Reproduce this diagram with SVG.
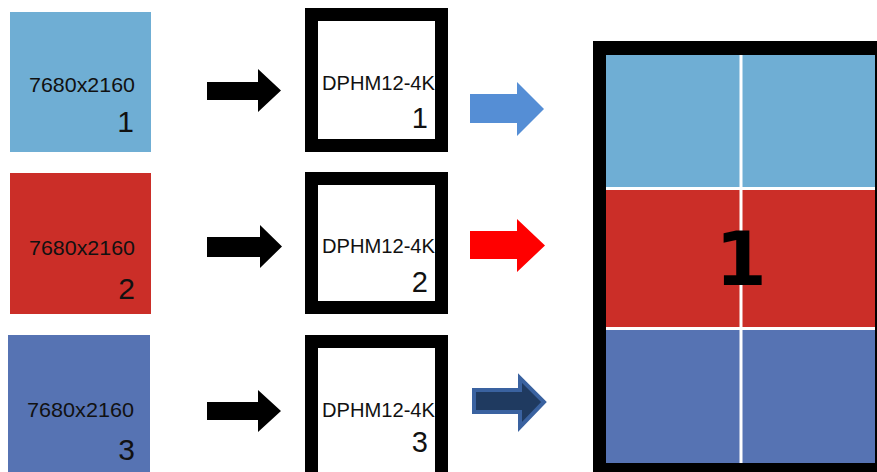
<svg xmlns="http://www.w3.org/2000/svg" width="877" height="472" viewBox="0 0 877 472">
<style>
.lbl{font-family:"Liberation Sans",Arial,sans-serif;fill:#111;}
.res{font-size:21px;}
.num{font-size:30px;text-anchor:end;}
.dev{font-size:20px;}
.frame{fill:#fff;stroke:#000;stroke-width:13;}
.blk{fill:#000;}
</style>
<rect width="877" height="472" fill="#fff"/>
<g id="src1">
<rect x="10" y="12" width="141" height="140" fill="#6FAED4"/>
<text class="lbl res" x="29" y="92" textLength="106" lengthAdjust="spacingAndGlyphs">7680x2160</text>
<text class="lbl num" x="134" y="132">1</text>
</g>
<g id="src2">
<rect x="10" y="173" width="141" height="141" fill="#CB2E28"/>
<text class="lbl res" x="29" y="255" textLength="106" lengthAdjust="spacingAndGlyphs">7680x2160</text>
<text class="lbl num" x="135" y="299">2</text>
</g>
<g id="src3">
<rect x="8" y="335" width="142" height="140" fill="#5673B3"/>
<text class="lbl res" x="27" y="417" textLength="107" lengthAdjust="spacingAndGlyphs">7680x2160</text>
<text class="lbl num" x="135" y="460">3</text>
</g>
<g id="dev1">
<rect class="frame" x="311.5" y="14.5" width="130" height="131"/>
<text class="lbl dev" x="322" y="90" textLength="113" lengthAdjust="spacingAndGlyphs">DPHM12-4K</text>
<text class="lbl num" x="428" y="128" style="font-size:29px">1</text>
</g>
<g id="dev2">
<rect class="frame" x="311.5" y="178.5" width="130" height="129"/>
<text class="lbl dev" x="322" y="253" textLength="113" lengthAdjust="spacingAndGlyphs">DPHM12-4K</text>
<text class="lbl num" x="428" y="292" style="font-size:29px">2</text>
</g>
<g id="dev3">
<rect class="frame" x="311.5" y="341.5" width="130" height="140"/>
<text class="lbl dev" x="322" y="417" textLength="113" lengthAdjust="spacingAndGlyphs">DPHM12-4K</text>
<text class="lbl num" x="428" y="452" style="font-size:29px">3</text>
</g>
<g id="wall">
<rect x="593" y="41" width="300" height="440" fill="#000"/>
<rect x="606" y="55" width="269" height="408" fill="#fff"/>
<rect x="606" y="55" width="269" height="132" fill="#6FAED4"/>
<rect x="606" y="190" width="269" height="137" fill="#CB2E28"/>
<rect x="606" y="330" width="269" height="133" fill="#5673B3"/>
<rect x="739.5" y="55" width="3" height="408" fill="#fff"/>
<text x="741" y="285" text-anchor="middle" style="font-family:'DejaVu Sans',sans-serif;font-weight:bold;font-size:74px;fill:#000">1</text>
</g>
<g id="connectors">
<polygon class="blk" points="207,82 258,82 258,69 281,90.5 258,112 258,100 207,100"/>
<polygon class="blk" points="207,237 260,237 260,225 282,246.5 260,268 260,257 207,257"/>
<polygon class="blk" points="207,402 258,402 258,390 281,411 258,432 258,420 207,420"/>
<polygon fill="#558ED5" points="470,94 517,94 517,82 544,109 517,136 517,123 470,123"/>
<polygon fill="#FF0000" points="470,231 517,231 517,219 545,245.5 517,272 517,259 470,259"/>
<polygon fill="#1F3A60" stroke="#3A62A0" stroke-width="4" points="474,390 520,390 520,378 544,402 520,427 520,412 474,412"/>
</g>
</svg>
